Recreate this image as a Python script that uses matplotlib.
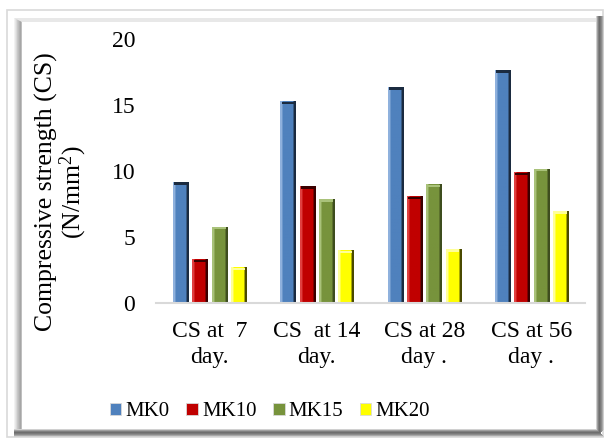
import numpy as np
import matplotlib
matplotlib.use("Agg")
import matplotlib.pyplot as plt
from matplotlib.patches import Rectangle, Polygon
from matplotlib.colors import to_rgb
from matplotlib.font_manager import FontProperties

plt.rcParams['font.family'] = 'serif'
plt.rcParams['font.serif'] = ['Liberation Serif', 'DejaVu Serif']
plt.rcParams['mathtext.fontset'] = 'custom'
plt.rcParams['mathtext.rm'] = 'Liberation Serif'
plt.rcParams['mathtext.it'] = 'Liberation Serif:italic'
FAM = "Liberation Serif"

categories = ["CS at  7\nday.", "CS  at 14\nday.", "CS at 28\nday .", "CS at 56\nday ."]
series_names = ["MK0", "MK10", "MK15", "MK20"]
MK0 = [9.2, 15.3, 16.4, 17.7]
MK10 = [3.3, 8.9, 8.1, 9.9]
MK15 = [5.8, 7.9, 9.0, 10.2]
MK20 = [2.7, 4.0, 4.1, 7.0]
series = [MK0, MK10, MK15, MK20]
yticks = [0, 5, 10, 15, 20]

base_colors = ["#4F81BD", "#C00000", "#77933C", "#FFFF00"]
dark_colors = ["#1B2B40", "#3A0000", "#3E4D1E", "#4A4A00"]
light_colors = ["#8FB1DD", "#E04040", "#A9C27A", "#FFFF99"]

W, H = 609, 441
fig = plt.figure(figsize=(W / 100, H / 100), dpi=100)
fig.patch.set_facecolor("white")

# background frame
bg = fig.add_axes([0, 0, 1, 1], zorder=-10)
bg.set_xlim(0, W)
bg.set_ylim(H, 0)
bg.axis("off")
bg.add_patch(Rectangle((7, 10), 596, 427, fill=False, ec="#d9d9d9", lw=1.2))
for i, c in enumerate(["#f2f2f2", "#e6e6e6", "#d9d9d9", "#c8c8c8", "#bdbdbd", "#b0b0b0", "#a6a6a6", "#bfbfbf"]):
    bg.add_patch(Rectangle((14 + i, 18), 1, 412, color=c, lw=0))
bg.add_patch(Polygon([(14, 18), (598, 18), (598, 22), (22, 22)], closed=True, color="#e8e8e8", lw=0))
for i, c in enumerate(["#d0d0d0", "#a0a0a0", "#808080", "#6e6e6e", "#7a7a7a", "#8c8c8c", "#a8a8a8", "#cfcfcf"]):
    bg.add_patch(Rectangle((596 + i, 16), 1, 421 - i, color=c, lw=0))
    bg.add_patch(Rectangle((14, 429 + i), 583 + i, 1, color=c, lw=0))

ax = fig.add_axes([156 / W, 1 - 303 / H, (585 - 156) / W, (303 - 39.3) / H])
ax.set_facecolor("none")

x = np.arange(len(categories))
pitch = 0.18
width = 0.14
n = len(series)
for i, (vals, name) in enumerate(zip(series, series_names)):
    off = (i - (n - 1) / 2) * pitch
    bars = ax.bar(x + off, vals, width, color=base_colors[i], label=name,
                  edgecolor="#d9d9d9", linewidth=0.6, zorder=2)
    grad = np.array([to_rgb(light_colors[i])] * 2 + [to_rgb(base_colors[i])] * 9 +
                    [to_rgb(dark_colors[i])] * 2)[None, :, :]
    for b in bars:
        x0, w, h = b.get_x(), b.get_width(), b.get_height()
        im = ax.imshow(grad, extent=(x0, x0 + w, 0, h), aspect="auto",
                       interpolation="bilinear", zorder=3)
        im.set_clip_path(b)
        ax.bar(x0 + w / 2, 0.18, w * 0.85, bottom=h - 0.22,
               color=dark_colors[i] if i < 2 else light_colors[i], zorder=4, lw=0)

ax.set_xlim(-0.5, len(categories) - 0.5)
ax.set_ylim(0, 20)
ax.set_yticks(yticks)
ax.set_xticks(x)
ax.set_xticklabels(categories, fontsize=17, linespacing=1.3, family=FAM)
for t in ax.get_yticklabels():
    t.set_family(FAM)
ax.tick_params(axis="both", length=0, labelsize=17)
ax.tick_params(axis="y", pad=15)
ax.tick_params(axis="x", pad=13)
for s in ["top", "right", "left"]:
    ax.spines[s].set_visible(False)
ax.spines["bottom"].set_color("#d9d9d9")
ax.spines["bottom"].set_linewidth(1.5)
ax.spines["bottom"].set_zorder(5)

fig.text(62 / W, 1 - 192 / H, "Compressive strength (CS)\n(N/mm$^2$)", rotation=90,
         ha="center", va="center", fontsize=18.5, multialignment="center", linespacing=1.0,
         family=FAM)

handles, labels = ax.get_legend_handles_labels()
leg = fig.legend(handles, labels, loc="center", bbox_to_anchor=(270 / W, 1 - 412 / H),
                 ncol=4, frameon=False, prop=FontProperties(family=FAM, size=15),
                 handlelength=0.55, handleheight=0.55, handletextpad=0.2, columnspacing=0.8)

fig.savefig("out.png", dpi=100, facecolor="white")
